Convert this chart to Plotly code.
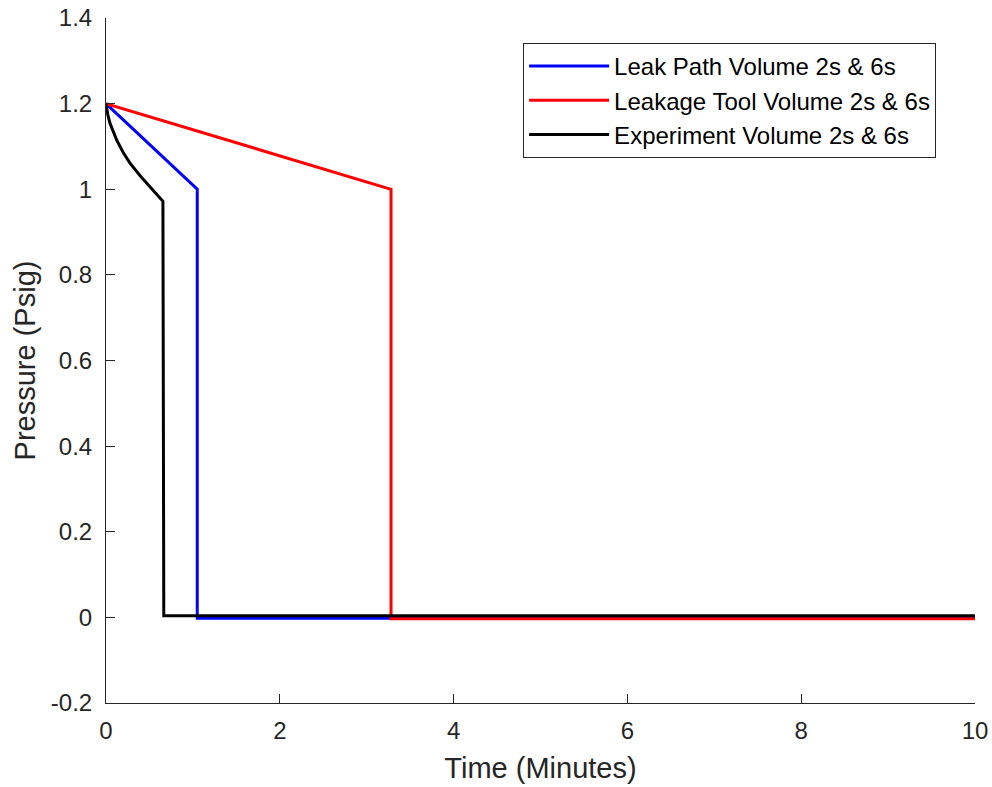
import plotly.graph_objects as go

# Leak Path Volume
blue_x = [0, 1.05, 1.05, 10]
blue_y = [1.2, 1.0, -0.002, -0.002]
# Leakage Tool Volume
red_x = [0, 3.28, 3.28, 10]
red_y = [1.2, 1.0, -0.003, -0.003]
# Experiment Volume
black_x = [0, 0.02, 0.046, 0.08, 0.123, 0.2, 0.276, 0.4, 0.506, 0.6, 0.655, 0.665, 1.5, 3.0, 5.0, 7.0, 9.0, 10]
black_y = [1.2, 1.175, 1.154, 1.135, 1.115, 1.085, 1.061, 1.03, 1.006, 0.985, 0.972, 0.004, 0.004, 0.005, 0.004, 0.005, 0.004, 0.004]

names = ["Leak Path Volume 2s & 6s", "Leakage Tool Volume 2s & 6s", "Experiment Volume 2s & 6s"]
x_ticks = [0, 2, 4, 6, 8, 10]
y_ticks = [-0.2, 0, 0.2, 0.4, 0.6, 0.8, 1, 1.2, 1.4]
y_tick_text = ["-0.2", "0", "0.2", "0.4", "0.6", "0.8", "1", "1.2", "1.4"]

fig = go.Figure()
for xs, ys, c, n in [(blue_x, blue_y, "#0000ff", names[0]),
                     (red_x, red_y, "#ff0000", names[1]),
                     (black_x, black_y, "#000000", names[2])]:
    fig.add_trace(go.Scatter(x=xs, y=ys, mode="lines", name=n,
                             line=dict(color=c, width=3)))

axcol = "#262626"
fig.update_layout(
    width=992, height=787,
    margin=dict(l=106, r=17, t=18, b=84, autoexpand=False),
    plot_bgcolor="white", paper_bgcolor="white",
    font=dict(family="Liberation Sans, Arial, sans-serif", color=axcol, size=24),
    showlegend=True,
    legend=dict(x=0.48, y=0.9635, xanchor="left", yanchor="top",
                bordercolor=axcol, borderwidth=1, bgcolor="white",
                font=dict(size=24, color="#000000"), itemwidth=80,
                tracegroupgap=0),
    xaxis=dict(range=[0, 10], tickvals=x_ticks, showgrid=False, zeroline=False,
               showline=True, linecolor=axcol, linewidth=1, ticks="inside",
               ticklen=9, tickcolor=axcol, mirror=False, ticklabelstandoff=6,
               automargin=False,
               title=dict(text="Time (Minutes)", font=dict(size=29), standoff=14)),
    yaxis=dict(range=[-0.2, 1.4], tickvals=y_ticks, ticktext=y_tick_text,
               showgrid=False, zeroline=False, automargin=False,
               showline=True, linecolor=axcol, linewidth=1, ticks="inside",
               ticklen=9, tickcolor=axcol, mirror=False, ticklabelstandoff=8,
               title=dict(text="Pressure (Psig)", font=dict(size=29), standoff=6)),
)
fig.write_html("out.html")
